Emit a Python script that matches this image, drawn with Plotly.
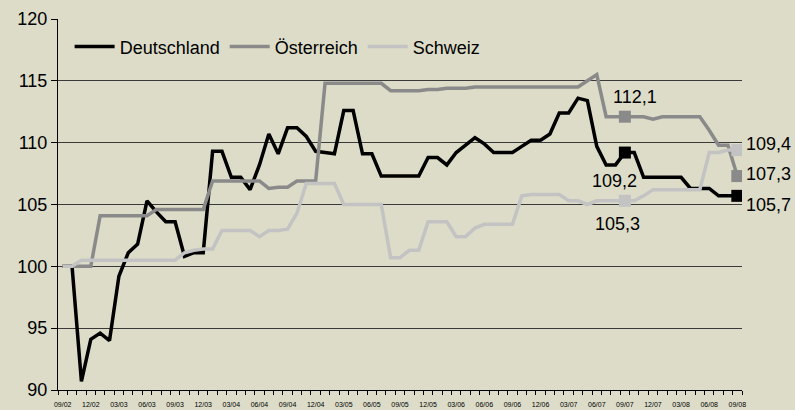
import plotly.graph_objects as go

months_idx = list(range(73))
tick_labels = ["09/02", "12/02", "03/03", "06/03", "09/03", "12/03", "03/04", "06/04", "09/04",
               "12/04", "03/05", "06/05", "09/05", "12/05", "03/06", "06/06", "09/06", "12/06",
               "03/07", "06/07", "09/07", "12/07", "03/08", "06/08", "09/08"]
tick_pos = list(range(0, 73, 3))

deutschland = [100.0, 100.0, 90.7, 94.1, 94.6, 94.0, 99.2, 101.1, 101.8, 105.3,
               104.4, 103.6, 103.6, 100.8, 101.1, 101.1, 109.3, 109.3, 107.2, 107.2,
               106.2, 108.2, 110.7, 109.1, 111.2, 111.2, 110.5, 109.3, 109.2, 109.1,
               112.6, 112.6, 109.1, 109.1, 107.3, 107.3, 107.3, 107.3, 107.3, 108.8,
               108.8, 108.2, 109.2, 109.8, 110.4, 109.9, 109.2, 109.2, 109.2, 109.7,
               110.2, 110.2, 110.7, 112.4, 112.4, 113.6, 113.4, 109.7, 108.2, 108.2,
               109.2, 109.2, 107.2, 107.2, 107.2, 107.2, 107.2, 106.3, 106.3, 106.3,
               105.7, 105.7, 105.7]
oesterreich = [100.0, 100.0, 100.0, 100.0, 104.1, 104.1, 104.1, 104.1, 104.1, 104.1,
               104.6, 104.6, 104.6, 104.6, 104.6, 104.6, 106.9, 106.9, 106.9, 106.9,
               106.9, 106.9, 106.3, 106.4, 106.4, 106.9, 106.9, 106.9, 114.8, 114.8,
               114.8, 114.8, 114.8, 114.8, 114.8, 114.2, 114.2, 114.2, 114.2, 114.3,
               114.3, 114.4, 114.4, 114.4, 114.5, 114.5, 114.5, 114.5, 114.5, 114.5,
               114.5, 114.5, 114.5, 114.5, 114.5, 114.5, 115.0, 115.5, 112.1, 112.1,
               112.1, 112.1, 112.1, 111.9, 112.1, 112.1, 112.1, 112.1, 112.1, 111.0,
               109.8, 109.8, 107.3]
schweiz = [100.0, 100.0, 100.5, 100.5, 100.5, 100.5, 100.5, 100.5, 100.5, 100.5,
           100.5, 100.5, 100.5, 101.1, 101.3, 101.4, 101.4, 102.9, 102.9, 102.9,
           102.9, 102.4, 102.9, 102.9, 103.0, 104.3, 106.7, 106.7, 106.7, 106.7,
           105.0, 105.0, 105.0, 105.0, 105.0, 100.7, 100.7, 101.3, 101.3, 103.6,
           103.6, 103.6, 102.4, 102.4, 103.1, 103.4, 103.4, 103.4, 103.4, 105.7,
           105.8, 105.8, 105.8, 105.8, 105.3, 105.3, 105.0, 105.3, 105.3, 105.3,
           105.3, 105.3, 105.7, 106.2, 106.2, 106.2, 106.2, 106.2, 106.2, 109.2,
           109.2, 109.4, 109.4]

series = [("Deutschland", deutschland, "#000000"),
          ("Österreich", oesterreich, "#8a8a8a"),
          ("Schweiz", schweiz, "#c3c3c3")]
marked = [60, 72]

fig = go.Figure()
for name, vals, col in series:
    fig.add_trace(go.Scatter(x=months_idx, y=vals, mode="lines", name=name,
                             line=dict(color=col, width=3.5)))
for name, vals, col in series:
    fig.add_trace(go.Scatter(x=marked, y=[vals[i] for i in marked], mode="markers",
                             showlegend=False,
                             marker=dict(symbol="square", size=12, color=col)))

def fmt(v):
    return f"{v:.1f}".replace(".", ",")

font_lbl = dict(family="Liberation Sans, Arial, sans-serif", size=18, color="#000000")
shifts_mid = {"Deutschland": (-10, -28), "Österreich": (10, 20), "Schweiz": (-7, -23)}
shifts_end = {"Deutschland": -9, "Österreich": 2, "Schweiz": 6}
for name, vals, col in series:
    dx, dy = shifts_mid[name]
    fig.add_annotation(x=60, y=vals[60], text=fmt(vals[60]), showarrow=False,
                       xshift=dx, yshift=dy, font=font_lbl)
    fig.add_annotation(x=72, y=vals[72], text=fmt(vals[72]), showarrow=False,
                       xanchor="left", xshift=7, yshift=shifts_end[name], font=font_lbl)

fig.update_layout(
    width=795, height=410,
    margin=dict(l=58, r=53, t=19, b=20, autoexpand=False),
    paper_bgcolor="#dcdcc8", plot_bgcolor="#dcdcc8",
    font=dict(family="Liberation Sans, Arial, sans-serif", color="#000000"),
    showlegend=True,
    legend=dict(orientation="h", x=0.017, y=0.925, xanchor="left", yanchor="middle",
                bgcolor="rgba(0,0,0,0)", font=dict(size=18), itemwidth=40,
                tracegroupgap=0),
)
fig.update_xaxes(
    range=[-0.5, 72.5], showgrid=False, zeroline=False, automargin=False,
    showline=True, linecolor="#000000", linewidth=1,
    tickmode="array", tickvals=tick_pos, ticktext=tick_labels,
    ticks="outside", ticklen=8, tickcolor="rgba(0,0,0,0)",
    tickfont=dict(size=7, color="#000000"),
    minor=dict(ticks="outside", ticklen=4, tickcolor="#000000", tickwidth=1,
               tickmode="linear", tick0=-0.5, dtick=1, showgrid=False),
)
fig.update_yaxes(
    range=[90, 120], tickmode="linear", tick0=90, dtick=5, automargin=False,
    showgrid=True, gridcolor="#3a3a3a", gridwidth=1, zeroline=False,
    showline=True, linecolor="#000000", linewidth=1,
    ticks="outside", ticklen=6, tickcolor="#000000",
    tickfont=dict(size=18, color="#000000"),
)

fig.write_html("out.html", config={"displayModeBar": False},
               post_script="document.body.style.margin='0';document.body.style.overflow='hidden';")
